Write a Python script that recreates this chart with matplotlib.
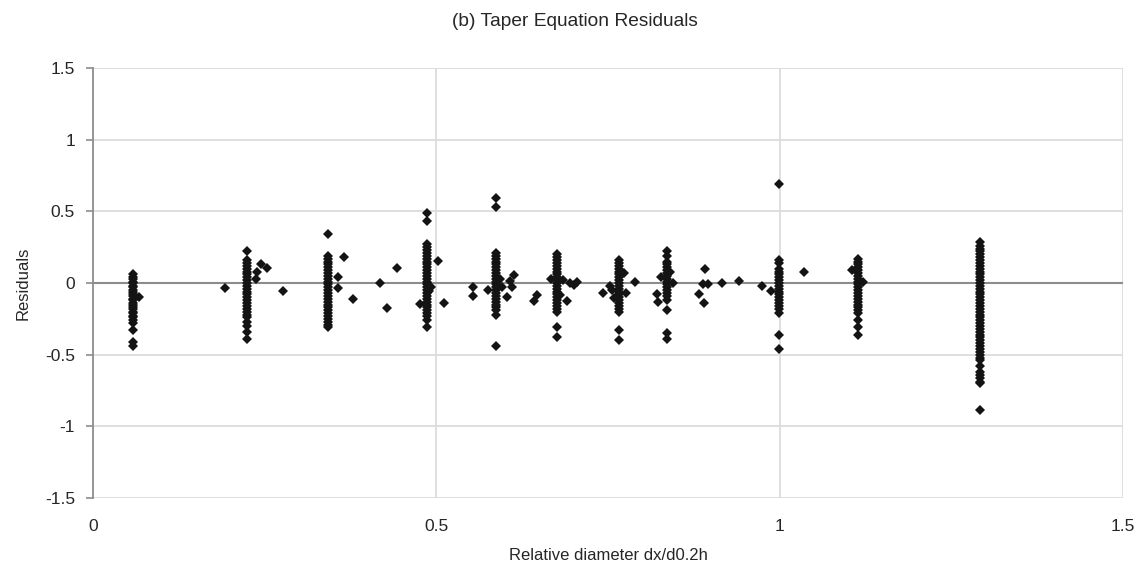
import matplotlib
matplotlib.use("Agg")
import matplotlib.pyplot as plt

plt.rcParams["font.family"] = ["Liberation Sans", "DejaVu Sans"]

TITLE = "(b) Taper Equation Residuals"
X_LABEL = "Relative diameter dx/d0.2h"
Y_LABEL = "Residuals"

# dense vertical columns of residuals (one per relative-diameter class)
col_x = [0.058, 0.224, 0.342, 0.486, 0.587, 0.676, 0.766, 0.836, 0.999, 1.114, 1.292]
col_y = [
    [0.06, 0.04, 0.03, 0.01, 0.0, -0.02, -0.03, -0.05, -0.06, -0.08, -0.09, -0.11, -0.12,
     -0.14, -0.15, -0.17, -0.18, -0.20, -0.21, -0.23, -0.24, -0.26, -0.28, -0.33, -0.41, -0.44],
    [0.22, 0.16, 0.14, 0.12, 0.10, 0.08, 0.06, 0.04, 0.02, 0.0, -0.02, -0.04, -0.06, -0.08,
     -0.10, -0.12, -0.14, -0.16, -0.18, -0.20, -0.22, -0.24, -0.27, -0.30, -0.34, -0.39],
    [0.34, 0.19, 0.17, 0.15, 0.13, 0.11, 0.09, 0.07, 0.05, 0.03, 0.01, -0.01, -0.03, -0.05,
     -0.07, -0.09, -0.11, -0.13, -0.15, -0.17, -0.19, -0.21, -0.23, -0.25, -0.27, -0.29, -0.31],
    [0.49, 0.43, 0.27, 0.25, 0.23, 0.21, 0.19, 0.17, 0.15, 0.13, 0.11, 0.09, 0.07, 0.05, 0.03,
     0.01, -0.01, -0.03, -0.05, -0.07, -0.09, -0.11, -0.13, -0.15, -0.17, -0.19, -0.21,
     -0.23, -0.26, -0.31],
    [0.59, 0.53, 0.21, 0.19, 0.17, 0.15, 0.13, 0.11, 0.09, 0.07, 0.05, 0.03, 0.01, -0.01,
     -0.03, -0.05, -0.07, -0.09, -0.11, -0.13, -0.15, -0.17, -0.19, -0.22, -0.44],
    [0.20, 0.18, 0.16, 0.14, 0.12, 0.10, 0.08, 0.06, 0.04, 0.02, 0.0, -0.02, -0.04, -0.06,
     -0.08, -0.10, -0.12, -0.14, -0.16, -0.18, -0.20, -0.31, -0.38],
    [0.16, 0.14, 0.12, 0.10, 0.08, 0.06, 0.04, 0.02, 0.0, -0.02, -0.04, -0.06, -0.08, -0.10,
     -0.12, -0.14, -0.16, -0.18, -0.20, -0.33, -0.40],
    [0.22, 0.19, 0.15, 0.13, 0.11, 0.09, 0.07, 0.05, 0.03, 0.01, -0.01, -0.03, -0.05, -0.07,
     -0.09, -0.12, -0.19, -0.35, -0.39],
    [0.69, 0.16, 0.14, 0.10, 0.08, 0.06, 0.04, 0.02, 0.0, -0.02, -0.04, -0.06, -0.08, -0.10,
     -0.12, -0.14, -0.16, -0.18, -0.21, -0.36, -0.46],
    [0.17, 0.15, 0.13, 0.11, 0.09, 0.07, 0.05, 0.03, 0.01, -0.01, -0.03, -0.05, -0.07, -0.09,
     -0.11, -0.13, -0.15, -0.17, -0.19, -0.21, -0.26, -0.31, -0.36],
    [0.285, 0.26, 0.24, 0.22, 0.20, 0.18, 0.16, 0.14, 0.12, 0.10, 0.08, 0.06, 0.04, 0.02, 0.0,
     -0.02, -0.04, -0.06, -0.08, -0.10, -0.12, -0.14, -0.16, -0.18, -0.20, -0.22, -0.24,
     -0.26, -0.28, -0.30, -0.32, -0.34, -0.36, -0.38, -0.40, -0.42, -0.44, -0.46, -0.48,
     -0.50, -0.52, -0.54, -0.58, -0.62, -0.64, -0.66, -0.69, -0.70, -0.885],
]

# scattered residuals between the columns
extra_x = [0.067, 0.192, 0.237, 0.239, 0.245, 0.253, 0.277,
           0.357, 0.357, 0.366, 0.379, 0.418, 0.428, 0.443,
           0.476, 0.502, 0.511, 0.492, 0.489, 0.553, 0.553, 0.575,
           0.596, 0.603, 0.607, 0.610, 0.613, 0.593, 0.642, 0.647,
           0.667, 0.680, 0.685, 0.690, 0.695, 0.700, 0.705,
           0.743, 0.753, 0.756, 0.759, 0.776, 0.789, 0.773,
           0.821, 0.823, 0.827, 0.845, 0.840, 0.882, 0.890, 0.888, 0.895, 0.891,
           0.916, 0.941, 0.974, 0.987, 1.035, 1.121, 1.105]
extra_y = [-0.10, -0.035, 0.03, 0.08, 0.13, 0.105, -0.055,
           0.04, -0.035, 0.18, -0.11, 0.0, -0.175, 0.105,
           -0.145, 0.155, -0.14, -0.03, -0.055, -0.03, -0.09, -0.05,
           -0.03, -0.10, 0.015, -0.025, 0.055, 0.03, -0.125, -0.085,
           0.025, -0.085, 0.02, -0.125, 0.0, -0.015, 0.005,
           -0.07, -0.02, -0.05, -0.105, -0.07, 0.01, 0.07,
           -0.075, -0.13, 0.04, 0.0, 0.08, -0.08, -0.14, -0.01, -0.005, 0.095,
           0.0, 0.015, -0.02, -0.055, 0.08, 0.01, 0.09]

X_TICKS = [0, 0.5, 1, 1.5]
X_TICK_LABELS = ["0", "0.5", "1", "1.5"]
Y_TICKS = [-1.5, -1, -0.5, 0, 0.5, 1, 1.5]
Y_TICK_LABELS = ["-1.5", "-1", "-0.5", "0", "0.5", "1", "1.5"]

fig = plt.figure(figsize=(11.43, 5.65), dpi=100)
ax = fig.add_axes([0.0814, 0.1186, 0.9011, 0.761])

grid_c = "#d9d9d9"
for yv in Y_TICKS:
    if yv != 0:
        ax.axhline(yv, color=grid_c, lw=1.2, zorder=0)
for xv in X_TICKS[1:]:
    ax.axvline(xv, color=grid_c, lw=1.2, zorder=0)
ax.axhline(0, color="#8c8c8c", lw=1.5, zorder=1)

pt_x = []
pt_y = []
for cx, ys in zip(col_x, col_y):
    pt_x += [cx] * len(ys)
    pt_y += ys
pt_x += extra_x
pt_y += extra_y
ax.plot(pt_x, pt_y, linestyle="none", marker="D", ms=5.4, color="#141414",
        markeredgewidth=0, zorder=3)

ax.set_xlim(0, 1.5)
ax.set_ylim(-1.5, 1.5)
ax.set_xticks(X_TICKS)
ax.set_xticklabels(X_TICK_LABELS)
ax.set_yticks(Y_TICKS)
ax.set_yticklabels(Y_TICK_LABELS)

for s in ["top", "right", "bottom"]:
    ax.spines[s].set_visible(False)
ax.spines["left"].set_color("#8c8c8c")
ax.spines["left"].set_linewidth(1.3)

ax.tick_params(axis="x", length=0, pad=15, labelsize=12.5, colors="#262626")
ax.tick_params(axis="y", length=5, width=1.2, color="#8c8c8c", pad=8,
               labelsize=12.5, labelcolor="#262626")

ax.set_xlabel(X_LABEL, fontsize=12, color="#262626", labelpad=10)
ax.set_ylabel(Y_LABEL, fontsize=12, color="#262626", labelpad=10)
fig.text(0.503, 0.962, TITLE, ha="center", va="center", fontsize=13.8, color="#262626")

fig.savefig("out.png", dpi=100)
